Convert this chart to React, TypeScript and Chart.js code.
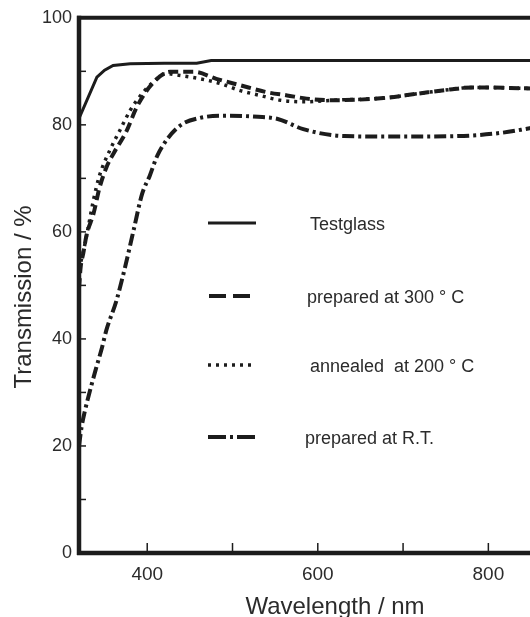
import React, { useEffect, useRef } from 'react';
import { Chart, registerables } from 'chart.js';

Chart.register(...registerables);

// ---- data ----
const xTickLabels = [400, 600, 800];
const yTickLabels = [0, 20, 40, 60, 80, 100];
const xMinorTicks = [400, 500, 600, 700, 800];
const yMinorTicks = [10, 20, 30, 40, 50, 60, 70, 80, 90];
const seriesLabels = ['Testglass', 'prepared at 300 ° C', 'annealed  at 200 ° C', 'prepared at R.T.'];

const testglassNm = [320, 341, 350, 360, 380, 420, 458, 475, 600, 700, 850];
const testglassT = [81.2, 88.9, 90.2, 91.1, 91.4, 91.5, 91.5, 92.0, 92.0, 92.0, 92.0];

const prep300Nm = [320, 322, 325, 329, 337, 344, 352, 361, 375, 388, 405, 427, 455, 481, 509, 540, 564, 587, 618, 677, 716, 755, 782, 850];
const prep300T = [49.5, 53.5, 56, 59.5, 63.4, 68.2, 72, 74.8, 78.6, 83.4, 87.5, 89.9, 89.9, 88.6, 87.4, 86.1, 85.5, 84.9, 84.6, 85.0, 85.8, 86.6, 87.0, 86.8];

const anneal200Nm = [320, 326, 331, 337, 344, 356, 368, 380, 388, 403, 423, 435, 462, 486, 509, 532, 556, 583, 618, 677, 716, 755, 782, 850];
const anneal200T = [53, 57, 61, 66, 70.5, 75.2, 79, 82.7, 84.6, 87.4, 89.6, 89.3, 88.6, 87.7, 86.4, 85.5, 84.6, 84.3, 84.6, 85.0, 85.8, 86.6, 87.0, 86.8];

const prepRTNm = [320, 323, 327, 333, 340, 347, 352, 364, 374, 384, 394, 403, 412, 435, 462, 494, 530, 553, 583, 631, 698, 765, 815, 850];
const prepRTT = [20, 23.5, 26.6, 30.4, 34.5, 38.4, 41.6, 47.2, 53.4, 60.3, 67.1, 70.5, 74.3, 79.4, 81.3, 81.7, 81.5, 81.1, 79.2, 77.9, 77.8, 77.9, 78.5, 79.4];

const INK = '#1c1c1c';
const TEXT = '#2b2b2b';
const FONT = '"Liberation Sans", Arial, Helvetica, sans-serif';

const legendSamples = [
  { dash: [] as number[], width: 3.2, x0: 208, x1: 256 },
  { dash: [17, 7], width: 4, x0: 209, x1: 250 },
  { dash: [3, 5], width: 3.5, x0: 208, x1: 251 },
  { dash: [18, 4, 3, 4], width: 4, x0: 208, x1: 255 },
];

const zip = (xs: number[], ys: number[]) => xs.map((x, i) => ({ x, y: ys[i] }));

const framePlugin = {
  id: 'frame',
  afterDraw(chart: any) {
    const { ctx, chartArea: a, scales } = chart;
    const xs = scales.x;
    const ys = scales.y;
    ctx.save();
    ctx.strokeStyle = INK;
    ctx.lineCap = 'butt';
    ctx.setLineDash([]);
    // frame lines (right border lies outside the picture)
    ctx.lineWidth = 4.5;
    ctx.beginPath();
    ctx.moveTo(a.left, a.bottom + 2);
    ctx.lineTo(a.left, a.top - 2);
    ctx.stroke();
    ctx.beginPath();
    ctx.moveTo(a.left - 2, a.bottom);
    ctx.lineTo(a.right + 2, a.bottom);
    ctx.stroke();
    ctx.lineWidth = 4;
    ctx.beginPath();
    ctx.moveTo(a.left - 2, a.top);
    ctx.lineTo(a.right + 2, a.top);
    ctx.stroke();
    // inner ticks
    ctx.lineWidth = 1.5;
    xMinorTicks.forEach((v) => {
      const px = xs.getPixelForValue(v);
      ctx.beginPath();
      ctx.moveTo(px, a.bottom);
      ctx.lineTo(px, a.bottom - 10);
      ctx.stroke();
    });
    yMinorTicks.forEach((v) => {
      const py = ys.getPixelForValue(v);
      ctx.beginPath();
      ctx.moveTo(a.left, py);
      ctx.lineTo(a.left + 7, py);
      ctx.stroke();
    });
    // axis titles
    ctx.fillStyle = TEXT;
    ctx.font = `24px ${FONT}`;
    ctx.textAlign = 'center';
    ctx.textBaseline = 'alphabetic';
    ctx.fillText('Wavelength / nm', 335, 614);
    ctx.save();
    ctx.translate(31, 297);
    ctx.rotate(-Math.PI / 2);
    ctx.fillText('Transmission / %', 0, 0);
    ctx.restore();
    // legend
    const rowsY = [223, 296, 365, 437];
    const textX = [310, 307, 310, 305];
    ctx.font = `18px ${FONT}`;
    ctx.textAlign = 'left';
    ctx.textBaseline = 'middle';
    seriesLabels.forEach((label, i) => {
      const s = legendSamples[i];
      ctx.lineWidth = s.width;
      ctx.setLineDash(s.dash);
      ctx.beginPath();
      ctx.moveTo(s.x0, rowsY[i]);
      ctx.lineTo(s.x1, rowsY[i]);
      ctx.stroke();
      ctx.setLineDash([]);
      ctx.fillText(label, textX[i], rowsY[i] + 2);
    });
    ctx.restore();
  },
};

export default function App() {
  const ref = useRef<HTMLCanvasElement | null>(null);
  useEffect(() => {
    if (!ref.current) return;
    const chart = new Chart(ref.current, {
      type: 'line',
      data: {
        datasets: [
          { label: seriesLabels[0], data: zip(testglassNm, testglassT), borderColor: INK, borderWidth: 3, tension: 0, pointRadius: 0 },
          { label: seriesLabels[1], data: zip(prep300Nm, prep300T), borderColor: INK, borderWidth: 4, borderDash: [10, 5], cubicInterpolationMode: 'monotone', pointRadius: 0 },
          { label: seriesLabels[2], data: zip(anneal200Nm, anneal200T), borderColor: INK, borderWidth: 3.5, borderDash: [3, 5], cubicInterpolationMode: 'monotone', pointRadius: 0 },
          { label: seriesLabels[3], data: zip(prepRTNm, prepRTT), borderColor: INK, borderWidth: 4, borderDash: [12, 4, 3, 4], cubicInterpolationMode: 'monotone', pointRadius: 0 },
        ] as any,
      },
      options: {
        responsive: false,
        animation: false,
        devicePixelRatio: 1,
        layout: { padding: { left: 0, right: 29, top: 17, bottom: 0 } },
        plugins: { legend: { display: false }, tooltip: { enabled: false } },
        scales: {
          x: {
            type: 'linear',
            min: 320,
            max: 850,
            grid: { display: false, drawTicks: false },
            border: { display: false },
            ticks: {
              autoSkip: false,
              maxRotation: 0,
              padding: 10,
              color: TEXT,
              font: { family: FONT, size: 19 },
            },
            afterBuildTicks: (s: any) => { s.ticks = xTickLabels.map((v) => ({ value: v })); },
            afterFit: (s: any) => { s.height = 64; },
          },
          y: {
            type: 'linear',
            min: 0,
            max: 100,
            grid: { display: false, drawTicks: false },
            border: { display: false },
            ticks: {
              autoSkip: false,
              padding: 7,
              color: TEXT,
              font: { family: FONT, size: 18 },
            },
            afterBuildTicks: (s: any) => { s.ticks = yTickLabels.map((v) => ({ value: v })); },
            afterFit: (s: any) => { s.width = 79; },
          },
        },
      } as any,
      plugins: [framePlugin],
    });
    return () => chart.destroy();
  }, []);
  return (
    <div style={{ position: 'fixed', left: 0, top: 0, width: 530, height: 617, overflow: 'hidden', background: '#fff' }}>
      <canvas ref={ref} width={560} height={617} style={{ display: 'block', width: 560, height: 617 }} />
    </div>
  );
}
